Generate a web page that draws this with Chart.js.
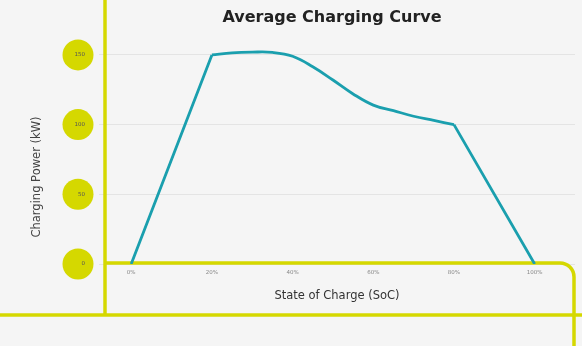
<!DOCTYPE html>
<html>
<head>
<meta charset="utf-8">
<script src="https://cdn.jsdelivr.net/npm/chart.js@4.4.1/dist/chart.umd.min.js"></script>
<style>
  html, body { margin: 0; padding: 0; background: #f5f5f5; }
  #wrap { width: 582px; height: 346px; position: relative; }
</style>
</head>
<body>
<div id="wrap"><canvas id="lineChart"></canvas></div>
<script>
// values (state of charge % -> kW)
const soc = [0, 20, 25, 30, 35, 40, 45, 50, 55, 60, 65, 70, 75, 80, 100]
const power = [0, 150, 151.5, 152, 151.8, 149, 141.5, 132, 122, 114, 110, 106, 103, 100, 0]
const socTicks = [0, 20, 40, 60, 80, 100]
const powerTicks = [0, 50, 100, 150]

const yellow = "#d5d800"
const teal = "#1a9fae"

// the ramps (0-20 and 80-100) are straight, the middle part is smooth
const ramp = soc.map((s, i) => ({ x: s, y: (s <= 20 || s >= 80) ? power[i] : null }))
const taper = soc.map((s, i) => ({ x: s, y: (s >= 20 && s <= 80) ? power[i] : null }))

// yellow frame, bubbles behind the y labels, and the texts
const decor = {
  id: "decor",
  beforeDraw(chart) {
    const ctx = chart.ctx
    ctx.save()
    ctx.fillStyle = "#f5f5f5"
    ctx.fillRect(0, 0, chart.width, chart.height)
    const y = chart.scales.y
    ctx.fillStyle = yellow
    powerTicks.forEach(v => {
      ctx.beginPath()
      ctx.arc(78, y.getPixelForValue(v), 15.5, 0, Math.PI * 2)
      ctx.fill()
    })
    ctx.restore()
  },
  beforeDatasetsDraw(chart) {
    const ctx = chart.ctx
    const y0 = chart.scales.y.getPixelForValue(0)
    ctx.save()
    ctx.strokeStyle = yellow
    ctx.lineWidth = 3.5
    ctx.beginPath()
    ctx.moveTo(105, 0)
    ctx.lineTo(105, 315)
    ctx.stroke()
    ctx.beginPath()
    ctx.moveTo(0, 315)
    ctx.lineTo(582, 315)
    ctx.stroke()
    ctx.beginPath()
    ctx.moveTo(105, y0 - 1)
    ctx.lineTo(560, y0 - 1)
    ctx.arcTo(574, y0 - 1, 574, y0 + 14, 14)
    ctx.lineTo(574, 346)
    ctx.stroke()

    ctx.textAlign = "center"
    ctx.textBaseline = "middle"
    ctx.fillStyle = "#222"
    ctx.font = "bold 16px 'DejaVu Sans'"
    ctx.fillText("Average Charging Curve", 332, 18)
    ctx.fillStyle = "#333"
    ctx.font = "11.5px 'DejaVu Sans'"
    ctx.fillText("State of Charge (SoC)", 337, 296)
    ctx.translate(37, 177)
    ctx.rotate(-Math.PI / 2)
    ctx.fillStyle = "#444"
    ctx.fillText("Charging Power (kW)", 0, 0)
    ctx.restore()
  }
}

function displayLineChart() {
  const line = { borderColor: teal, borderWidth: 2.8, pointRadius: 0, fill: false, spanGaps: false }
  const data = {
    datasets: [
      Object.assign({ label: "ramp", data: ramp, tension: 0 }, line),
      Object.assign({ label: "taper", data: taper, tension: 0.4 }, line)
    ]
  }
  const ctx = document.getElementById("lineChart").getContext("2d")
  new Chart(ctx, {
    type: "line",
    data: data,
    plugins: [decor],
    options: {
      responsive: true,
      maintainAspectRatio: false,
      animation: false,
      layout: { padding: { left: 28, right: 7, top: 34, bottom: 0 } },
      plugins: { legend: { display: false }, tooltip: { enabled: false } },
      scales: {
        x: {
          type: "linear",
          min: -6,
          max: 110,
          afterBuildTicks: s => { s.ticks = socTicks.map(v => ({ value: v })) },
          afterFit: s => { s.height = 82 },
          grid: { display: false },
          border: { display: false },
          ticks: {
            color: "#888",
            font: { family: "DejaVu Sans", size: 5.5 },
            padding: -3,
            maxRotation: 0,
            callback: v => v + "%"
          }
        },
        y: {
          min: 0,
          max: 165,
          afterBuildTicks: s => { s.ticks = powerTicks.map(v => ({ value: v })) },
          afterFit: s => { s.width = 79 },
          grid: { color: "#e4e4e4", lineWidth: 1, tickLength: 8 },
          border: { display: false },
          ticks: {
            color: "#555",
            font: { family: "DejaVu Sans", size: 5.5 },
            padding: 14
          }
        }
      }
    }
  })
}

displayLineChart()
</script>
</body>
</html>
